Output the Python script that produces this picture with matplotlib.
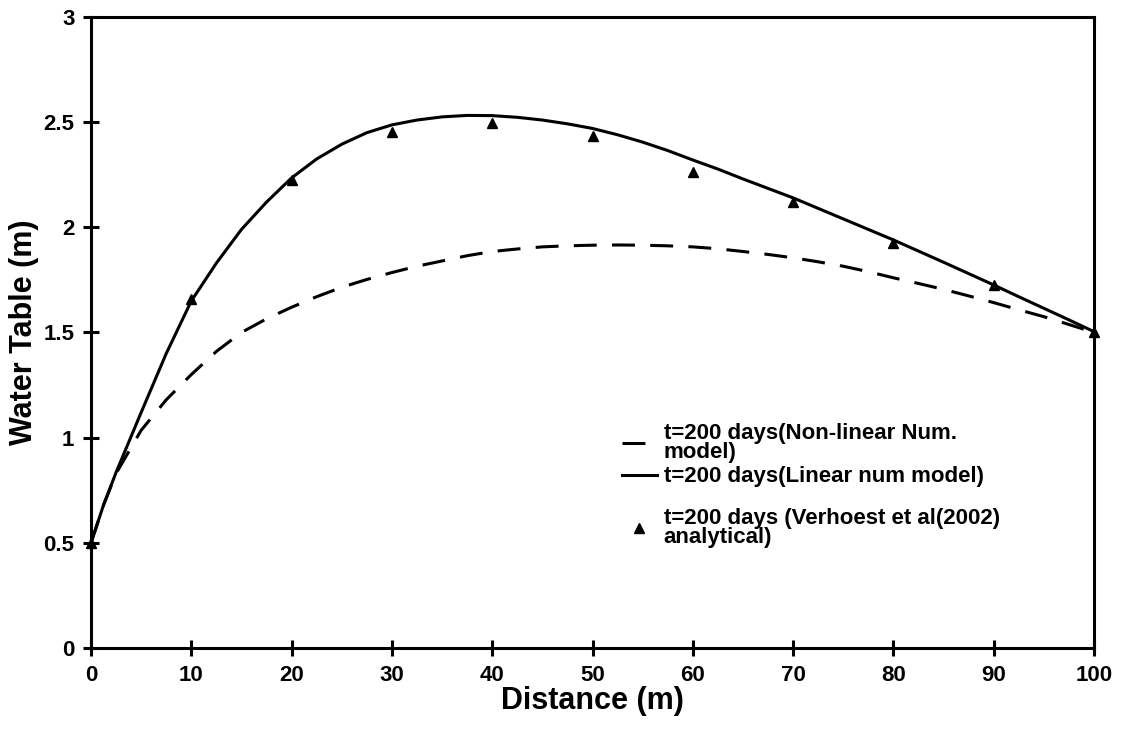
import numpy as np
import matplotlib.pyplot as plt

plt.rcParams['font.family'] = ['Liberation Sans', 'DejaVu Sans']
plt.rcParams['font.weight'] = 'bold'

# data
dist = [0, 1.25, 2.5, 5, 7.5, 10, 12.5, 15, 17.5, 20, 22.5, 25, 27.5, 30, 32.5, 35, 37.5,
        40, 42.5, 45, 47.5, 50, 52.5, 55, 57.5, 60, 62.5, 65, 67.5, 70, 72.5, 75,
        77.5, 80, 82.5, 85, 87.5, 90, 92.5, 95, 97.5, 100]
linear_wt = [0.5, 0.68, 0.835, 1.12, 1.40, 1.65, 1.83, 1.99, 2.12, 2.235, 2.325, 2.395, 2.45,
             2.487, 2.51, 2.525, 2.532, 2.531, 2.523, 2.51, 2.492, 2.47, 2.44, 2.405,
             2.365, 2.32, 2.277, 2.23, 2.185, 2.14, 2.09, 2.04, 1.99, 1.94, 1.887,
             1.834, 1.78, 1.726, 1.67, 1.615, 1.56, 1.504]
nonlinear_wt = [0.5, 0.68, 0.83, 1.035, 1.18, 1.30, 1.41, 1.50, 1.565, 1.62, 1.67, 1.715,
                1.752, 1.785, 1.815, 1.84, 1.865, 1.885, 1.897, 1.907, 1.912, 1.915,
                1.916, 1.915, 1.912, 1.907, 1.898, 1.885, 1.871, 1.855, 1.836, 1.815,
                1.789, 1.76, 1.733, 1.705, 1.674, 1.642, 1.608, 1.575, 1.538, 1.5]
ana_x = [0, 10, 20, 30, 40, 50, 60, 70, 80, 90, 100]
ana_wt = [0.5, 1.66, 2.225, 2.455, 2.496, 2.435, 2.265, 2.12, 1.925, 1.726, 1.5]
xticks = np.arange(0, 101, 10)
yticks = [0, 0.5, 1, 1.5, 2, 2.5, 3]
ytick_labels = ['0', '0.5', '1', '1.5', '2', '2.5', '3']

labels = ["t=200 days(Non-linear Num.\nmodel)",
          "t=200 days(Linear num model)",
          "t=200 days (Verhoest et al(2002)\nanalytical)"]

fig = plt.figure(figsize=(11.21, 7.32), dpi=100)
ax = fig.add_axes([0.0812, 0.1148, 0.8947, 0.862])

l1, = ax.plot(dist, nonlinear_wt, color='black', lw=2.2, dashes=(7.5, 5), label=labels[0])
l2, = ax.plot(dist, linear_wt, color='black', lw=2.2, label=labels[1])
l3, = ax.plot(ana_x, ana_wt, ls='none', marker='^', color='black', ms=7, label=labels[2],
              clip_on=False, zorder=3)

ax.set_xlim(0, 100)
ax.set_ylim(0, 3)
ax.set_xticks(xticks)
ax.set_yticks(yticks)
ax.set_yticklabels(ytick_labels)

for s in ax.spines.values():
    s.set_linewidth(2.2)
ax.tick_params(axis='both', which='major', bottom=True, left=True, top=False, right=False,
               direction='inout', length=12, width=2.2, color='black',
               labelsize=16, pad=6)
ax.set_xlabel('Distance (m)', fontsize=22, fontweight='bold', labelpad=0)
ax.set_ylabel('Water Table (m)', fontsize=22, fontweight='bold', labelpad=3)

legkw = dict(loc='upper left', frameon=False, handlelength=1.6, handletextpad=0.3,
             borderpad=0, borderaxespad=0, prop={'weight': 'bold', 'size': 16})
leg1 = ax.legend(handles=[l1, l2], bbox_to_anchor=(0.529, 0.357), labelspacing=0.15, **legkw)
for t in leg1.get_texts():
    t.set_linespacing(0.9)
ax.add_artist(leg1)
leg2 = ax.legend(handles=[l3], bbox_to_anchor=(0.529, 0.222), **legkw)
for t in leg2.get_texts():
    t.set_linespacing(0.9)

fig.savefig('out.png', dpi=100)
